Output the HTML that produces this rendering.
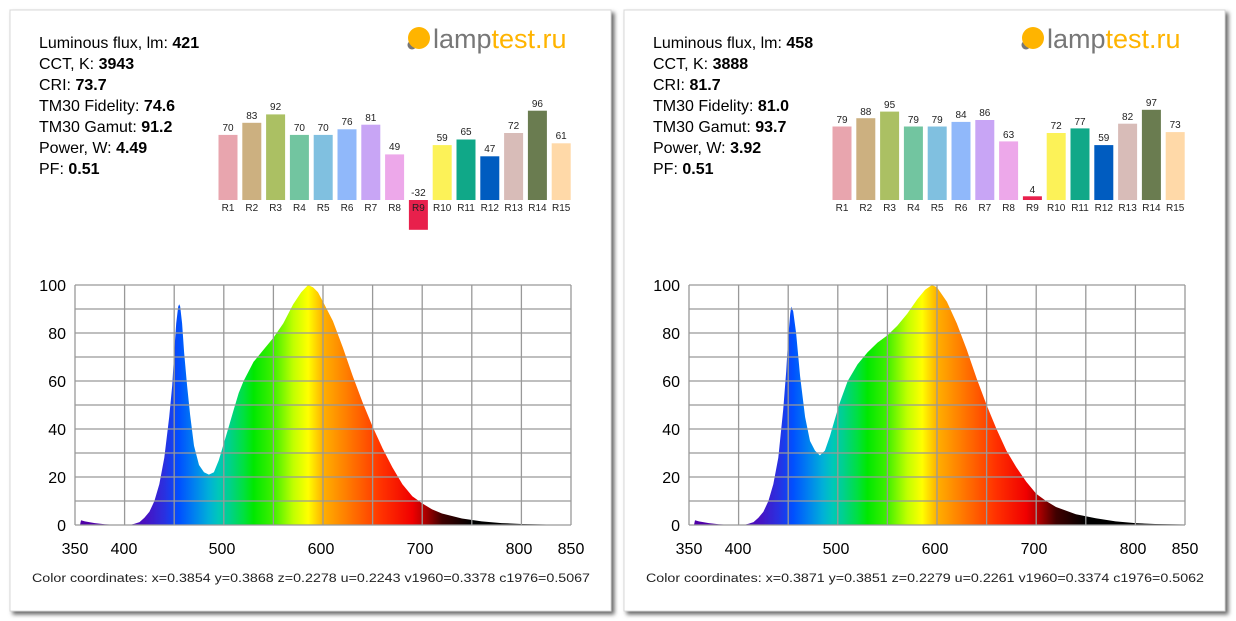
<!DOCTYPE html>
<html><head><meta charset="utf-8"><style>
html,body{margin:0;padding:0;background:#fff;width:1236px;height:621px;overflow:hidden}
svg{display:block}
text{font-family:"Liberation Sans",sans-serif}
</style></head><body>
<svg width="1236" height="621" viewBox="0 0 1236 621" xmlns="http://www.w3.org/2000/svg">
<defs>
<linearGradient id="sp" gradientUnits="userSpaceOnUse" x1="75" y1="0" x2="571" y2="0">
<stop offset="0.06" stop-color="#5000a8"/>
<stop offset="0.14" stop-color="#4a10c0"/>
<stop offset="0.18" stop-color="#2a30e0"/>
<stop offset="0.21" stop-color="#0050ff"/>
<stop offset="0.24" stop-color="#0080f0"/>
<stop offset="0.27" stop-color="#00b0d8"/>
<stop offset="0.29" stop-color="#00c8b8"/>
<stop offset="0.31" stop-color="#00d090"/>
<stop offset="0.34" stop-color="#00e040"/>
<stop offset="0.36" stop-color="#00e800"/>
<stop offset="0.40" stop-color="#40f000"/>
<stop offset="0.44" stop-color="#c0ff00"/>
<stop offset="0.47" stop-color="#ffff00"/>
<stop offset="0.50" stop-color="#ffb000"/>
<stop offset="0.56" stop-color="#ff7000"/>
<stop offset="0.62" stop-color="#ff3000"/>
<stop offset="0.68" stop-color="#f00000"/>
<stop offset="0.70" stop-color="#c00000"/>
<stop offset="0.74" stop-color="#400000"/>
<stop offset="0.80" stop-color="#000"/>
</linearGradient>
<filter id="sh" x="-5%" y="-5%" width="110%" height="110%"><feDropShadow dx="3" dy="3" stdDeviation="2" flood-color="#000" flood-opacity="0.6"/></filter>
</defs>

<!-- LEFT PANEL -->
<g>
<rect x="10" y="10" width="601" height="601" fill="#fff" stroke="#d8d8d8" filter="url(#sh)"/>
<g font-size="16" fill="#000">
<text x="39" y="48">Luminous flux, lm: <tspan font-weight="bold">421</tspan></text>
<text x="39" y="69">CCT, K: <tspan font-weight="bold">3943</tspan></text>
<text x="39" y="90">CRI: <tspan font-weight="bold">73.7</tspan></text>
<text x="39" y="111">TM30 Fidelity: <tspan font-weight="bold">74.6</tspan></text>
<text x="39" y="132">TM30 Gamut: <tspan font-weight="bold">91.2</tspan></text>
<text x="39" y="153">Power, W:  <tspan font-weight="bold">4.49</tspan></text>
<text x="39" y="174">PF:  <tspan font-weight="bold">0.51</tspan></text>
</g>
<circle cx="412" cy="45" r="4.5" fill="#777"/>
<circle cx="419" cy="38" r="11" fill="#ffb400"/>
<text x="433" y="48" font-size="27" fill="#777">lamp<tspan fill="#ffb400">test.ru</tspan></text>
<g>
<rect x="218.5" y="134.9" width="19" height="65.1" fill="#e8a5ae"/>
<rect x="242.3" y="122.8" width="19" height="77.2" fill="#ccb080"/>
<rect x="266.1" y="114.4" width="19" height="85.6" fill="#abc063"/>
<rect x="289.9" y="134.9" width="19" height="65.1" fill="#72c5a0"/>
<rect x="313.7" y="134.9" width="19" height="65.1" fill="#80c0e0"/>
<rect x="337.5" y="129.3" width="19" height="70.7" fill="#90b8fa"/>
<rect x="361.3" y="124.7" width="19" height="75.3" fill="#c8a5f5"/>
<rect x="385.1" y="154.4" width="19" height="45.6" fill="#eda8ea"/>
<rect x="408.9" y="200" width="19" height="29.8" fill="#e8204c"/>
<rect x="432.7" y="145.1" width="19" height="54.9" fill="#fcf258"/>
<rect x="456.5" y="139.5" width="19" height="60.5" fill="#10a888"/>
<rect x="480.3" y="156.3" width="19" height="43.7" fill="#005cc0"/>
<rect x="504.1" y="133" width="19" height="67" fill="#d8bcb8"/>
<rect x="527.9" y="110.7" width="19" height="89.3" fill="#6a7c50"/>
<rect x="551.7" y="143.3" width="19" height="56.7" fill="#ffd9a8"/>
</g>
<g font-size="10" fill="#222" text-anchor="middle">
<text x="228" y="131">70</text><text x="251.8" y="119">83</text><text x="275.6" y="110">92</text><text x="299.4" y="131">70</text><text x="323.2" y="131">70</text><text x="347" y="125">76</text><text x="370.8" y="121">81</text><text x="394.6" y="150">49</text><text x="418.4" y="196">-32</text><text x="442.2" y="141">59</text><text x="466" y="135">65</text><text x="489.8" y="152">47</text><text x="513.6" y="129">72</text><text x="537.4" y="107">96</text><text x="561.2" y="139">61</text>
<text x="228" y="211">R1</text><text x="251.8" y="211">R2</text><text x="275.6" y="211">R3</text><text x="299.4" y="211">R4</text><text x="323.2" y="211">R5</text><text x="347" y="211">R6</text><text x="370.8" y="211">R7</text><text x="394.6" y="211">R8</text><text x="418.4" y="211">R9</text><text x="442.2" y="211">R10</text><text x="466" y="211">R11</text><text x="489.8" y="211">R12</text><text x="513.6" y="211">R13</text><text x="537.4" y="211">R14</text><text x="561.2" y="211">R15</text>
</g>
<path id="specL" fill="url(#sp)"/>
<g id="gridL" stroke="#999" stroke-width="1.3" fill="none"></g>
<g font-size="16" fill="#000" text-anchor="end">
<text x="66" y="291">100</text><text x="66" y="339">80</text><text x="66" y="387">60</text><text x="66" y="435">40</text><text x="66" y="483">20</text><text x="66" y="531">0</text>
</g>
<g font-size="16" fill="#000" text-anchor="middle">
<text x="75" y="554">350</text><text x="124" y="554">400</text><text x="222" y="554">500</text><text x="321" y="554">600</text><text x="420" y="554">700</text><text x="519" y="554">800</text><text x="571" y="554">850</text>
</g>
<text x="32" y="582" font-size="11.5" fill="#222" textLength="558" lengthAdjust="spacingAndGlyphs">Color coordinates: x=0.3854 y=0.3868 z=0.2278 u=0.2243 v1960=0.3378 c1976=0.5067</text>
</g>

<!-- RIGHT PANEL -->
<g transform="translate(614,0)">
<rect x="10" y="10" width="601" height="601" fill="#fff" stroke="#d8d8d8" filter="url(#sh)"/>
<g font-size="16" fill="#000">
<text x="39" y="48">Luminous flux, lm: <tspan font-weight="bold">458</tspan></text>
<text x="39" y="69">CCT, K: <tspan font-weight="bold">3888</tspan></text>
<text x="39" y="90">CRI: <tspan font-weight="bold">81.7</tspan></text>
<text x="39" y="111">TM30 Fidelity: <tspan font-weight="bold">81.0</tspan></text>
<text x="39" y="132">TM30 Gamut: <tspan font-weight="bold">93.7</tspan></text>
<text x="39" y="153">Power, W:  <tspan font-weight="bold">3.92</tspan></text>
<text x="39" y="174">PF:  <tspan font-weight="bold">0.51</tspan></text>
</g>
<circle cx="412" cy="45" r="4.5" fill="#777"/>
<circle cx="419" cy="38" r="11" fill="#ffb400"/>
<text x="433" y="48" font-size="27" fill="#777">lamp<tspan fill="#ffb400">test.ru</tspan></text>
<g>
<rect x="218.5" y="126.5" width="19" height="73.5" fill="#e8a5ae"/>
<rect x="242.3" y="118.2" width="19" height="81.8" fill="#ccb080"/>
<rect x="266.1" y="111.6" width="19" height="88.4" fill="#abc063"/>
<rect x="289.9" y="126.5" width="19" height="73.5" fill="#72c5a0"/>
<rect x="313.7" y="126.5" width="19" height="73.5" fill="#80c0e0"/>
<rect x="337.5" y="121.9" width="19" height="78.1" fill="#90b8fa"/>
<rect x="361.3" y="120" width="19" height="80" fill="#c8a5f5"/>
<rect x="385.1" y="141.4" width="19" height="58.6" fill="#eda8ea"/>
<rect x="408.9" y="196.3" width="19" height="3.7" fill="#e8204c"/>
<rect x="432.7" y="133" width="19" height="67" fill="#fcf258"/>
<rect x="456.5" y="128.4" width="19" height="71.6" fill="#10a888"/>
<rect x="480.3" y="145.1" width="19" height="54.9" fill="#005cc0"/>
<rect x="504.1" y="123.7" width="19" height="76.3" fill="#d8bcb8"/>
<rect x="527.9" y="109.8" width="19" height="90.2" fill="#6a7c50"/>
<rect x="551.7" y="132.1" width="19" height="67.9" fill="#ffd9a8"/>
</g>
<g font-size="10" fill="#222" text-anchor="middle">
<text x="228" y="123">79</text><text x="251.8" y="115">88</text><text x="275.6" y="108">95</text><text x="299.4" y="123">79</text><text x="323.2" y="123">79</text><text x="347" y="118">84</text><text x="370.8" y="116">86</text><text x="394.6" y="138">63</text><text x="418.4" y="193">4</text><text x="442.2" y="129">72</text><text x="466" y="125">77</text><text x="489.8" y="141">59</text><text x="513.6" y="120">82</text><text x="537.4" y="106">97</text><text x="561.2" y="128">73</text>
<text x="228" y="211">R1</text><text x="251.8" y="211">R2</text><text x="275.6" y="211">R3</text><text x="299.4" y="211">R4</text><text x="323.2" y="211">R5</text><text x="347" y="211">R6</text><text x="370.8" y="211">R7</text><text x="394.6" y="211">R8</text><text x="418.4" y="211">R9</text><text x="442.2" y="211">R10</text><text x="466" y="211">R11</text><text x="489.8" y="211">R12</text><text x="513.6" y="211">R13</text><text x="537.4" y="211">R14</text><text x="561.2" y="211">R15</text>
</g>
<path id="specR" fill="url(#sp)"/>
<g id="gridR" stroke="#999" stroke-width="1.3" fill="none"></g>
<g font-size="16" fill="#000" text-anchor="end">
<text x="66" y="291">100</text><text x="66" y="339">80</text><text x="66" y="387">60</text><text x="66" y="435">40</text><text x="66" y="483">20</text><text x="66" y="531">0</text>
</g>
<g font-size="16" fill="#000" text-anchor="middle">
<text x="75" y="554">350</text><text x="124" y="554">400</text><text x="222" y="554">500</text><text x="321" y="554">600</text><text x="420" y="554">700</text><text x="519" y="554">800</text><text x="571" y="554">850</text>
</g>
<text x="32" y="582" font-size="11.5" fill="#222" textLength="558" lengthAdjust="spacingAndGlyphs">Color coordinates: x=0.3871 y=0.3851 z=0.2279 u=0.2261 v1960=0.3374 c1976=0.5062</text>
</g>
</svg>
<script>
function X(l){return 75+(l-350)*0.992}
function Y(v){return 525-v*2.4}
function build(pts,id){
  var d="M"+X(350)+","+Y(0);
  for(var i=0;i<pts.length;i++){
    d+="L"+X(pts[i][0]).toFixed(1)+","+Y(pts[i][1]).toFixed(1);
  }
  d+="L"+X(850)+","+Y(0)+"Z";
  document.getElementById(id).setAttribute("d",d);
}
var L=[[350,0],[355,0],[356,2],[360,1.5],[370,0.8],[380,0.3],[395,0],[405,0],[410,0.5],[415,1.2],[420,3],[425,5.5],[430,10],[435,17],[440,28],[445,45],[448,58],[450,72],[452,84],[454,91],[455,92],[456,91],[458,84],[460,72],[463,58],[466,46],[470,33],[475,25],[480,22],[485,21],[490,22],[495,27],[500,34],[505,41],[510,48],[515,55],[520,60],[530,68],[540,73],[550,78],[560,84],[570,92],[578,97],[585,100],[590,99],[595,97],[600,93],[610,85],[620,74],[630,62],[640,51],[650,41],[660,32],[670,24],[680,17],[690,12],[700,9],[710,6.5],[720,4.8],[740,2.7],[760,1.5],[780,0.8],[800,0.4],[850,0]];
var R=[[350,0],[355,0],[356,2],[360,1.5],[370,0.8],[380,0.3],[395,0],[405,0],[410,0.5],[415,1.2],[420,3],[425,5.5],[430,10],[435,17],[440,28],[445,48],[448,64],[450,78],[452,88],[453,91],[455,89],[458,80],[462,62],[467,45],[472,35],[477,31],[482,29],[487,31],[492,37],[497,44],[502,51],[510,60],[520,67],[530,72],[540,76],[550,79],[560,83],[570,88],[580,94],[588,98],[595,100],[600,99],[605,96],[610,93],[620,84],[630,73],[640,61],[650,50],[660,40],[670,31],[680,24],[690,18],[700,13],[710,10],[720,7.5],[740,4.5],[760,2.8],[780,1.5],[800,0.8],[820,0.4],[850,0.2]];
build(L,"specL");build(R,"specR");
function grid(id){
  var g=document.getElementById(id),s="";
  for(var i=0;i<=10;i++){var x=75+i*49.6;s+='<line x1="'+x+'" y1="285" x2="'+x+'" y2="525"/>';}
  for(var j=0;j<=10;j++){var y=285+j*24;s+='<line x1="75" y1="'+y+'" x2="571" y2="'+y+'"/>';}
  g.innerHTML=s;
}
grid("gridL");grid("gridR");
</script>
</body></html>
